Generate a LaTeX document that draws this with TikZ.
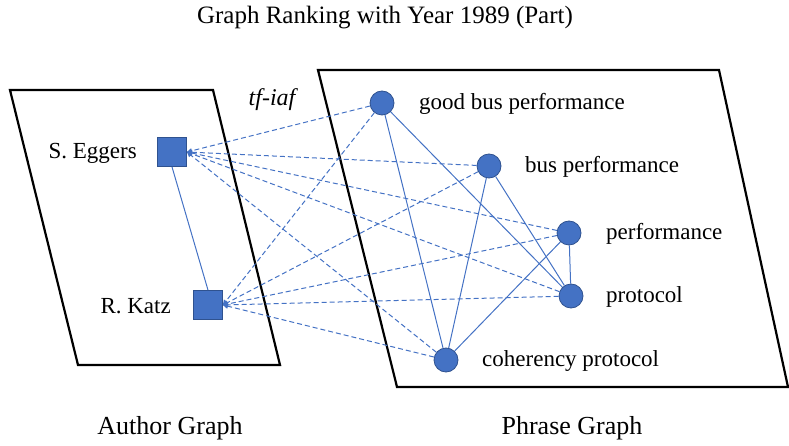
\documentclass[tikz,border=0pt]{standalone}
\usepackage{fontspec}
\setmainfont{Liberation Serif}
\usetikzlibrary{arrows.meta}
\definecolor{nodeblue}{HTML}{4472C4}
\definecolor{nodeedge}{HTML}{2F528F}
\definecolor{edgeblue}{HTML}{4472C4}
\begin{document}
\begin{tikzpicture}[x=1pt,y=-1pt,
  author/.style={draw=nodeedge, fill=nodeblue, minimum size=29pt, inner sep=0pt, line width=0.8pt},
  phrase/.style={circle, draw=nodeedge, fill=nodeblue, minimum size=24pt, inner sep=0pt, line width=0.8pt},
  lbl/.style={font=\rmfamily\fontsize{23}{27}\selectfont, inner sep=0pt},
  captext/.style={font=\rmfamily\fontsize{26}{31}\selectfont, inner sep=0pt},
  frame/.style={draw=black, line width=2.2pt},
  solidedge/.style={draw=edgeblue, line width=1pt},
  dashedge/.style={draw=edgeblue, line width=1pt, dash pattern=on 5pt off 3pt, -{Triangle[length=5pt,width=5pt]}},
]
\useasboundingbox (0,0) rectangle (789,446);
\draw[frame] (10,90) -- (213,90) -- (280,365) -- (78,365) -- cycle;
\draw[frame] (318,70) -- (719,70) -- (788,387) -- (397,387) -- cycle;

\node[captext, font=\rmfamily\fontsize{25}{30}\selectfont] (title) at (385,18) {Graph Ranking with Year 1989 (Part)};
\node[captext] (ag) at (170,428) {Author Graph};
\node[captext] (pg) at (572,428) {Phrase Graph};
\node[lbl, font=\rmfamily\fontsize{24}{28}\selectfont\itshape] (tf) at (272,100) {tf-iaf};

\node[author] (se) at (172,152) {};
\node[author] (rk) at (208,305) {};
\node[lbl, anchor=east] (sel) at (137,153) {S. Eggers};
\node[lbl, anchor=east] (rkl) at (171,306) {R. Katz};

\node[phrase] (gbp) at (382,103) {};
\node[phrase] (bp) at (489,166) {};
\node[phrase] (pf) at (569,233) {};
\node[phrase] (pr) at (571,296) {};
\node[phrase] (cp) at (446,360) {};
\node[lbl, anchor=west] (gbpl) at (419,104) {good bus performance};
\node[lbl, anchor=west] (bpl) at (525,167) {bus performance};
\node[lbl, anchor=west] (pfl) at (606,234) {performance};
\node[lbl, anchor=west] (prl) at (606,297) {protocol};
\node[lbl, anchor=west] (cpl) at (482,361) {coherency protocol};

\draw[solidedge] (se.south) -- (rk.north);
\draw[solidedge] (gbp) -- (cp);
\draw[solidedge] (gbp) -- (pr);
\draw[solidedge] (bp) -- (cp);
\draw[solidedge] (bp) -- (pr);
\draw[solidedge] (pf) -- (cp);
\draw[solidedge] (pf) -- (pr);

\foreach \p in {gbp,bp,pf,pr,cp}{
  \draw[dashedge] (\p) -- (se.east);
  \draw[dashedge] (\p) -- (rk.east);
}
\end{tikzpicture}
\end{document}
